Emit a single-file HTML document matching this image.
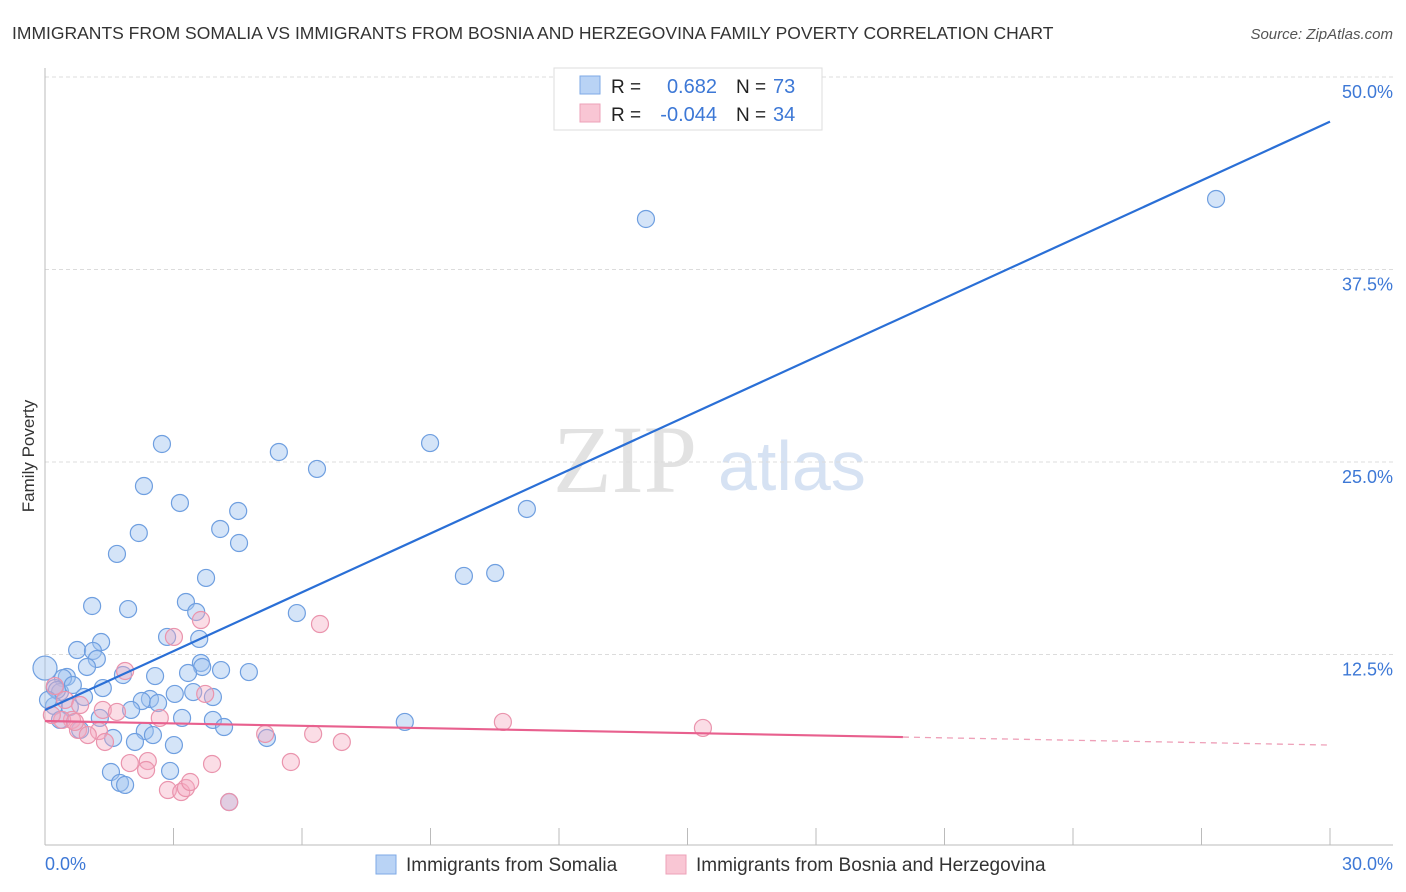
<!DOCTYPE html>
<html><head><meta charset="utf-8">
<style>
body{margin:0;background:#fff;font-family:"Liberation Sans",sans-serif;}
svg{display:block}
</style></head>
<body>
<svg id="chart" width="1406" height="892">
<text x="12" y="39" font-size="17.5" fill="#333">IMMIGRANTS FROM SOMALIA VS IMMIGRANTS FROM BOSNIA AND HERZEGOVINA FAMILY POVERTY CORRELATION CHART</text>
<text x="1393" y="39" font-size="15" fill="#555" font-style="italic" text-anchor="end">Source: ZipAtlas.com</text>
<text x="34" y="456" font-size="17" fill="#333" text-anchor="middle" transform="rotate(-90 34 456)">Family Poverty</text>
<g>
<text x="553" y="492" font-family="Liberation Serif,serif" font-size="96" fill="#e2e2e2">ZIP</text>
<text x="718" y="490" font-size="70" fill="#d6e2f3">atlas</text>
</g>
<g id="grid"></g>
<g id="axes"></g>
<g id="pts"></g>
<g id="lines"></g>
<g>
<rect x="554" y="68" width="268" height="62" fill="#fff" stroke="#ddd"/>
<rect x="580" y="76" width="20" height="18" fill="#b9d3f5" stroke="#7eaae6"/>
<rect x="580" y="104" width="20" height="18" fill="#f9c6d4" stroke="#eda2b8"/>
<text x="611" y="93" font-size="19" fill="#222">R =</text>
<text x="717" y="93" font-size="20" fill="#3d78d6" text-anchor="end">0.682</text>
<text x="736" y="93" font-size="19" fill="#222">N =</text>
<text x="773" y="93" font-size="20" fill="#3d78d6">73</text>
<text x="611" y="121" font-size="19" fill="#222">R =</text>
<text x="717" y="121" font-size="20" fill="#3d78d6" text-anchor="end">-0.044</text>
<text x="736" y="121" font-size="19" fill="#222">N =</text>
<text x="773" y="121" font-size="20" fill="#3d78d6">34</text>
</g>
<g>
<rect x="376" y="855" width="20" height="19" fill="#b9d3f5" stroke="#7eaae6"/>
<text x="406" y="871" font-size="19" fill="#333">Immigrants from Somalia</text>
<rect x="666" y="855" width="20" height="19" fill="#f9c6d4" stroke="#eda2b8"/>
<text x="696" y="871" font-size="19" fill="#333">Immigrants from Bosnia and Herzegovina</text>
</g>
</svg>
<script>
const blueX=[2.73,5.46,6.35,8.99,14.03,27.34,2.31,3.15,4.51,11.25,2.19,4.09,4.53,1.68,3.76,9.78,10.51,1.10,1.94,3.29,3.53,5.88,2.85,3.60,1.31,0.75,1.12,1.21,0.98,0,3.64,3.67,4.11,4.76,3.34,0.51,0.42,2.57,1.82,0.23,0.35,0.65,1.35,0.91,3.03,3.46,3.92,2.45,2.26,2.64,0.21,0.58,2.01,3.20,3.92,4.18,8.40,2.33,2.52,0.82,1.59,2.10,3.01,5.18,1.54,2.92,1.75,1.87,4.30,0.28,0.07,0.35,1.28];
const blueY=[26.17,25.65,24.55,26.23,40.78,42.08,23.44,22.34,21.82,21.95,20.39,20.65,19.74,19.03,17.47,17.60,17.79,15.65,15.45,15.91,15.26,15.19,13.64,13.51,13.31,12.79,12.73,12.21,11.69,11.62,11.95,11.69,11.49,11.36,11.30,11.04,10.97,11.10,11.17,10.32,10.06,10.52,10.32,9.74,9.94,10.06,9.74,9.61,9.48,9.35,9.16,9.09,8.90,8.38,8.25,7.79,8.12,7.53,7.27,7.60,7.08,6.82,6.62,7.08,4.87,4.94,4.16,4.03,2.92,10.19,9.55,8.25,8.38];
const pinkX=[3.01,3.64,6.42,1.87,0.23,0.47,0.82,1.35,1.68,2.68,3.74,0.63,0.40,0.77,1.26,1.00,1.40,5.14,6.26,6.93,10.69,15.36,1.98,2.40,2.36,3.90,5.74,2.87,3.18,3.29,3.39,4.30,0.70,0.16];
const pinkY=[13.64,14.74,14.48,11.43,10.45,9.55,9.22,8.90,8.77,8.38,9.94,8.25,8.25,7.60,7.53,7.27,6.82,7.34,7.34,6.82,8.12,7.73,5.45,5.58,5.00,5.39,5.52,3.70,3.57,3.83,4.22,2.92,8.12,8.57];
const blueLine=[8.9,47.1]; // y at x=0 and x=30
const pinkLine=[8.18,6.62];
const pinkSolidEnd=20.03;
const yTicks=[12.5,25,37.5,50];
const yTickLabels=["12.5%","25.0%","37.5%","50.0%"];
const xTicks=[0,3,6,9,12,15,18,21,24,27,30];

const X=v=>45+v/30*1285;
const Y=v=>847-v/12.5*192.5;
const NS="http://www.w3.org/2000/svg";
function mk(tag,attrs,parent){const e=document.createElementNS(NS,tag);for(const k in attrs)e.setAttribute(k,attrs[k]);parent.appendChild(e);return e;}
const grid=document.getElementById('grid'),axes=document.getElementById('axes'),pts=document.getElementById('pts'),lines=document.getElementById('lines');
yTicks.forEach((t,i)=>{
 const g=mk('line',{x1:45,x2:1393,y1:Y(t),y2:Y(t),stroke:'#dcdcdc','stroke-dasharray':'4 3'},grid);
 
 
 const l=mk('text',{x:1393,y:Y(t)+21,'font-size':18,fill:'#3d78d6','text-anchor':'end'},axes);
 l.textContent=yTickLabels[i];
 
 
});
const ya=mk('line',{x1:45,x2:45,y1:68,y2:845,stroke:'#bbb'},axes);


const xa=mk('line',{x1:45,x2:1393,y1:845,y2:845,stroke:'#bbb'},axes);


xTicks.forEach(t=>{
 const tk=mk('line',{x1:X(t),x2:X(t),y1:828,y2:845,stroke:'#bbb'},axes);
 
 
});
const xl0=mk('text',{x:45,y:870,'font-size':18,fill:'#3d78d6'},axes);xl0.textContent='0.0%';


const xl1=mk('text',{x:1393,y:870,'font-size':18,fill:'#3d78d6','text-anchor':'end'},axes);xl1.textContent='30.0%';



blueX.forEach((x,i)=>{
 const c=mk('circle',{cx:X(x),cy:Y(blueY[i]),r:x===0?12:8.5,fill:'rgba(160,196,240,0.45)',stroke:'#6f9fe0','stroke-width':1.2},pts);
 
 
});
pinkX.forEach((x,i)=>{
 const c=mk('circle',{cx:X(x),cy:Y(pinkY[i]),r:8.5,fill:'rgba(245,170,192,0.4)',stroke:'#ea94ad','stroke-width':1.2},pts);
 
 
});
const bl=mk('line',{x1:X(0),y1:Y(blueLine[0]),x2:X(30),y2:Y(blueLine[1]),stroke:'#2a6fd6','stroke-width':2.2},lines);


const pAt=x=>pinkLine[0]+(pinkLine[1]-pinkLine[0])*x/30;
const pl=mk('line',{x1:X(0),y1:Y(pAt(0)),x2:X(pinkSolidEnd),y2:Y(pAt(pinkSolidEnd)),stroke:'#e8608e','stroke-width':2.2},lines);


const pd=mk('line',{x1:X(pinkSolidEnd),y1:Y(pAt(pinkSolidEnd)),x2:X(30),y2:Y(pAt(30)),stroke:'#eea0b8','stroke-width':1.3,'stroke-dasharray':'6 5'},lines);


</script>
</body></html>
